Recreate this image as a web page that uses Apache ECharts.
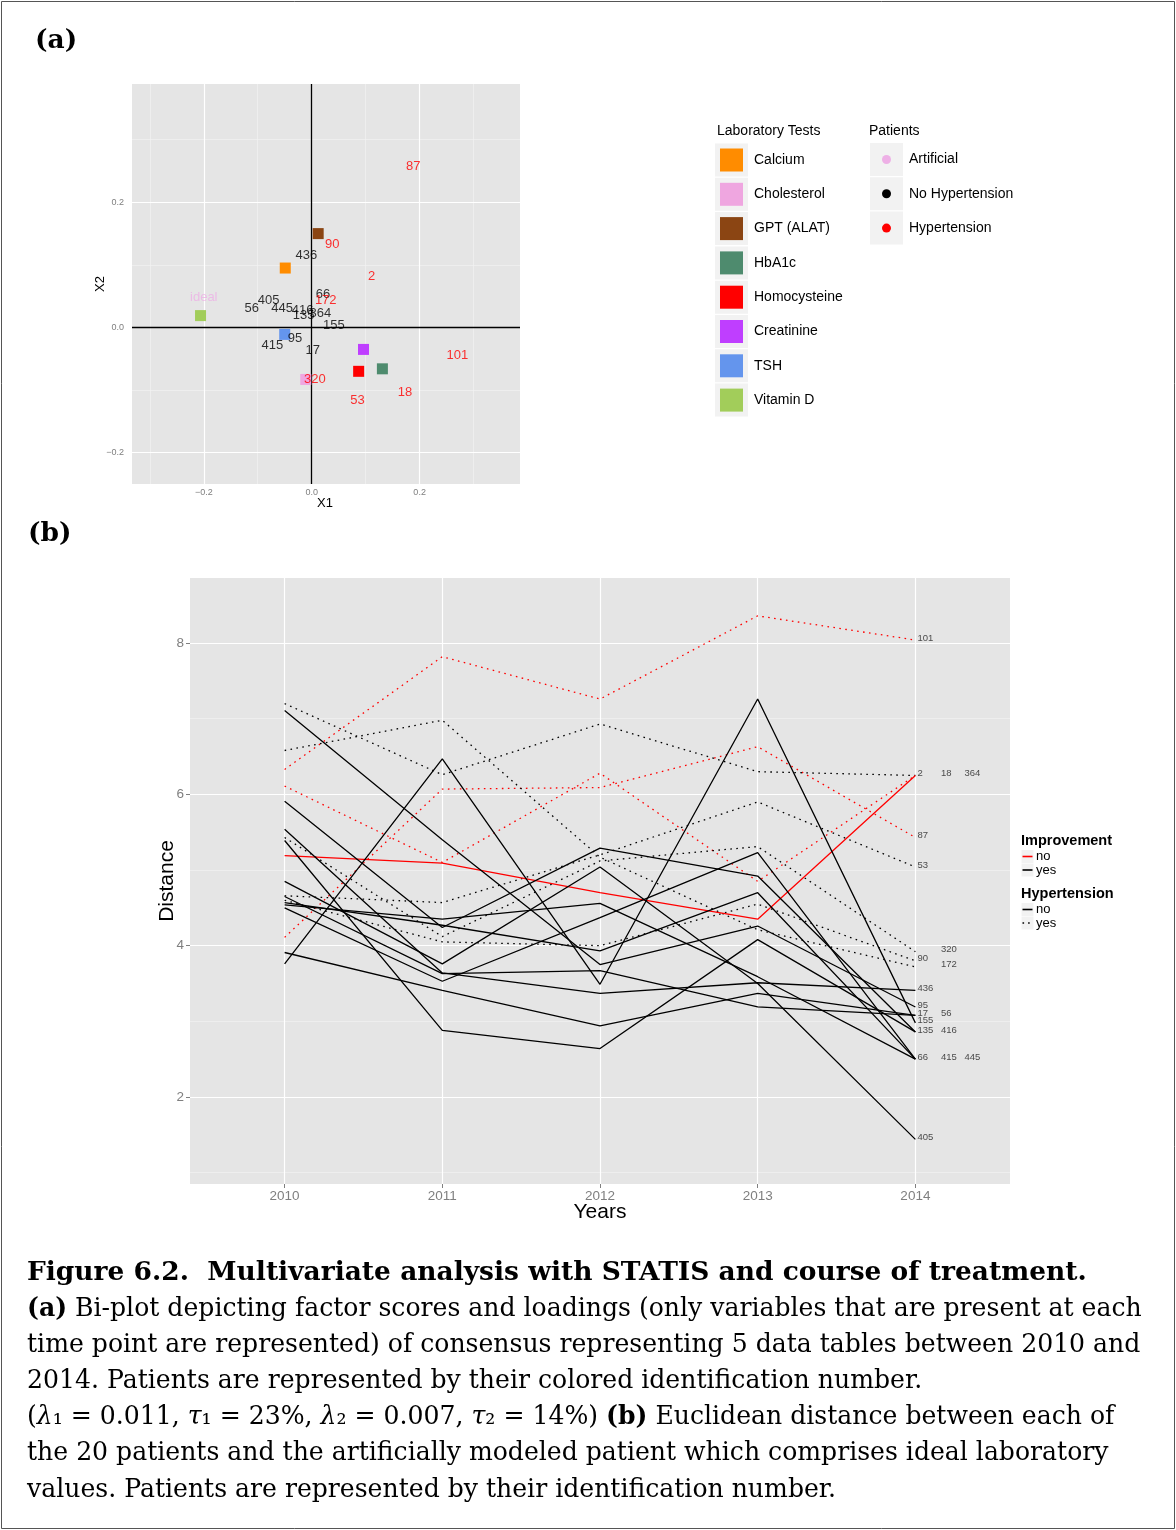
<!DOCTYPE html>
<html><head><meta charset="utf-8">
<script src="https://cdn.jsdelivr.net/npm/echarts@6/dist/echarts.min.js"></script>
<style>html,body{margin:0;padding:0;background:#fff}#c{width:1176px;height:1530px}</style>
</head><body><div id="c"></div>
<script>
// ================= DATA =================
// Panel (a): loadings of laboratory tests
const labTests = ['Calcium','Cholesterol','GPT (ALAT)','HbA1c','Homocysteine','Creatinine','TSH','Vitamin D'];
const labX1 = [-0.049, -0.011, 0.012, 0.131, 0.087, 0.096, -0.050, -0.206];
const labX2 = [0.095, -0.083, 0.150, -0.066, -0.070, -0.035, -0.011, 0.019];
// Panel (a): factor scores of patients
const patientIds   = ['87','90','436','2','66','172','405','56','445','416','135','364','155','95','415','17','320','101','18','53','ideal'];
const patientX1    = [0.188, 0.038, -0.010, 0.111, 0.021, 0.026, -0.080, -0.111, -0.055, -0.017, -0.015, 0.016, 0.041, -0.031, -0.073, 0.002, 0.006, 0.270, 0.173, 0.085, -0.200];
const patientX2    = [0.258, 0.133, 0.115, 0.081, 0.053, 0.044, 0.043, 0.030, 0.030, 0.027, 0.019, 0.023, 0.003, -0.018, -0.029, -0.036, -0.083, -0.045, -0.104, -0.117, 0.048];
const patientGroup = ['Hypertension','Hypertension','No Hypertension','Hypertension','No Hypertension','Hypertension','No Hypertension','No Hypertension','No Hypertension','No Hypertension','No Hypertension','No Hypertension','No Hypertension','No Hypertension','No Hypertension','No Hypertension','Hypertension','Hypertension','Hypertension','Hypertension','Artificial'];
const patientGroups = ['Artificial','No Hypertension','Hypertension'];
const ticksA = [-0.2, 0, 0.2];

// Panel (b): Euclidean distance to the ideal patient, per year
const years = [2010, 2011, 2012, 2013, 2014];
const ticksB = [2, 4, 6, 8];
const d101 = [6.33, 7.82, 7.26, 8.36, 8.04];
const d2   = [6.11, 5.10, 6.28, 4.85, 6.25];
const d87  = [4.11, 6.07, 6.09, 6.63, 5.43];
const d18  = [7.20, 6.26, 6.93, 6.30, 6.25];
const d53  = [4.66, 4.57, 5.20, 5.90, 5.04];
const d172 = [6.58, 6.98, 5.17, 4.21, 3.72];
const d320 = [5.43, 4.12, 5.12, 5.31, 3.92];
const d90  = [4.60, 4.05, 4.00, 4.55, 3.80];
const d364 = [5.19, 5.09, 4.70, 4.35, 6.25];
const d155 = [3.76, 6.47, 3.49, 7.26, 2.98];
const d95  = [7.11, 5.40, 3.75, 4.26, 3.19];
const d135 = [5.39, 2.88, 2.64, 4.08, 2.86];
const d416 = [5.91, 4.24, 5.29, 4.92, 2.86];
const d405 = [4.85, 3.76, 5.04, 3.50, 1.44];
const d445 = [4.54, 4.35, 4.56, 3.59, 2.50];
const d66  = [4.50, 3.53, 4.37, 5.23, 2.50];
const d415 = [4.57, 4.27, 3.93, 4.70, 2.50];
const d436 = [5.54, 3.64, 3.37, 3.51, 3.41];
const d56  = [4.65, 3.63, 3.67, 3.19, 3.08];
const d17  = [3.91, 3.41, 2.94, 3.37, 3.08];
const lineIds     = ['101','2','87','18','53','172','320','90','364','155','95','135','416','405','445','66','415','436','56','17'];
const lineValues  = [d101, d2, d87, d18, d53, d172, d320, d90, d364, d155, d95, d135, d416, d405, d445, d66, d415, d436, d56, d17];
const improvement = ['no','no','no','yes','yes','yes','yes','yes','no','yes','yes','yes','yes','yes','yes','yes','yes','yes','yes','yes'];
const hypertension= ['yes','yes','yes','yes','yes','yes','yes','yes','no','no','no','no','no','no','no','no','no','no','no','no'];

// Caption text
const captionTitle = 'Figure 6.2.  Multivariate analysis with STATIS and course of treatment.';
const captionBody = [
  '{b|(a)} Bi-plot depicting factor scores and loadings (only variables that are present at each',
  'time point are represented) of consensus representing 5 data tables between 2010 and',
  '2014. Patients are represented by their colored identification number.',
  '({i|λ}₁ = 0.011, {i|τ}₁ = 23%, {i|λ}₂ = 0.007, {i|τ}₂ = 14%) {b|(b)} Euclidean distance between each of',
  'the 20 patients and the artificially modeled patient which comprises ideal laboratory',
  'values. Patients are represented by their identification number.'
];

// ================= STYLE / LAYOUT =================
const SANS = "'Liberation Sans', Arial, Helvetica, sans-serif";
const SERIF = "'DejaVu Serif', 'Liberation Serif', serif";
const labColors = {'Calcium':'#FF8C00','Cholesterol':'#EFA6E0','GPT (ALAT)':'#8B4513','HbA1c':'#4E8B6E',
  'Homocysteine':'#FF0000','Creatinine':'#BF3EFF','TSH':'#6495ED','Vitamin D':'#A2CD5A'};
const groupColors = {'Artificial':'#EEB0E6','No Hypertension':'#000000','Hypertension':'#FF0000'};
const impColors = {no:'#FF0000', yes:'#000000'};
const DOT = [1.6, 4.4];
const labelSlot = {'18':1,'364':2,'320':1,'172':1,'56':1,'416':1,'415':1,'445':2};
const captionLeft = 27;
const captionRight = [1148, 1123, 917, 1113, 1111, 842];
const captionY = [1309, 1345, 1381, 1417, 1453, 1490];

const chart = echarts.init(document.getElementById('c'), null, {renderer:'canvas'});

// measure caption text to set font size
const mctx = document.createElement('canvas').getContext('2d');
function tw(s, weight, size){ mctx.font = weight + ' ' + size + 'px ' + SERIF; return mctx.measureText(s).width; }
const strip = s => s.replace(/\{[a-z]+\|([^}]*)\}/g, '$1');
let sumT = 0, sumM = 0;
captionBody.forEach((l,i) => { sumT += captionRight[i] - captionLeft; sumM += tw(strip(l), 'normal', 20); });
const capSize = 20 * sumT / sumM;
const titleSize = 20 * (1087 - captionLeft) / tw(captionTitle, 'bold', 20);

function fmtA(v){ return (v < 0 ? '\u2212' : '') + Math.abs(v).toFixed(1); }

function gridLines(xi, yi, xMaj, xMin, yMaj, yMin){
  const d = [];
  const minor = {type:'solid', width:0.7, color:'#F2F2F2'};
  const major = {type:'solid', width:1.2, color:'#FFFFFF'};
  xMin.forEach(v => d.push({xAxis:v, lineStyle:minor}));
  yMin.forEach(v => d.push({yAxis:v, lineStyle:minor}));
  xMaj.forEach(v => d.push({xAxis:v, lineStyle:major}));
  yMaj.forEach(v => d.push({yAxis:v, lineStyle:major}));
  return {type:'scatter', xAxisIndex:xi, yAxisIndex:yi, data:[], silent:true, z:1,
    markLine:{z:1, silent:true, symbol:['none','none'], label:{show:false}, animation:false,
      lineStyle:{type:'solid'}, data:d}};
}

const series = [];
// ---- panel (a)
series.push(gridLines(0, 0, ticksA, [-0.3,-0.1,0.1,0.3], ticksA, [-0.1,0.1,0.3]));
series.push({type:'scatter', xAxisIndex:0, yAxisIndex:0, data:[], silent:true, z:2,
  markLine:{z:2, silent:true, symbol:['none','none'], label:{show:false}, animation:false,
    lineStyle:{type:'solid', color:'#000', width:1.3}, data:[{xAxis:0},{yAxis:0}]}});
series.push({type:'scatter', xAxisIndex:0, yAxisIndex:0, symbol:'rect', symbolSize:11, z:3, silent:true,
  data: labTests.map((n,i) => ({value:[labX1[i], labX2[i]], name:n, itemStyle:{color:labColors[n], opacity:1}}))});
patientGroups.forEach(g => {
  series.push({type:'scatter', xAxisIndex:0, yAxisIndex:0, symbolSize:1, z:4, silent:true,
    itemStyle:{color:'rgba(0,0,0,0)'},
    label:{show:true, position:'inside', formatter:p => p.data[2], color:groupColors[g], fontSize:13, fontFamily:SANS},
    data: patientIds.map((id,i) => [patientX1[i], patientX2[i], id]).filter((d,i) => patientGroup[i] === g)});
});
// ---- panel (b)
series.push(gridLines(1, 1, years, [], ticksB, [1,3,5,7]));
lineIds.forEach((id,k) => {
  series.push({type:'line', xAxisIndex:1, yAxisIndex:1, symbol:'none', silent:true, z:3,
    lineStyle:{color:impColors[improvement[k]], width:1.3, type: hypertension[k]==='yes' ? DOT : 'solid'},
    data: years.map((y,j) => [y, lineValues[k][j]])});
});
series.push({type:'scatter', xAxisIndex:1, yAxisIndex:1, symbolSize:0, silent:true, z:4,
  data: lineIds.map((id,k) => ({value:[years[years.length-1], lineValues[k][years.length-1], id],
    label:{offset:[(labelSlot[id]||0)*23.5, -2]}})),
  label:{show:true, position:'right', distance:2, formatter:p => p.value[2], fontSize:9.5, color:'#222', fontFamily:SANS}});

// ---- graphics: headings, legends, axis titles, caption, border
const g = [];
g.push({type:'rect', shape:{x:1.5, y:1.5, width:1173, height:1527}, style:{fill:'none', stroke:'#555', lineWidth:1}});
g.push({type:'text', x:35, y:41, style:{text:'(a)', font:'bold ' + titleSize.toFixed(2) + 'px ' + SERIF, fill:'#000', textVerticalAlign:'middle'}});
g.push({type:'text', x:28, y:534, style:{text:'(b)', font:'bold ' + titleSize.toFixed(2) + 'px ' + SERIF, fill:'#000', textVerticalAlign:'middle'}});
// axis titles
g.push({type:'text', x:325, y:503, style:{text:'X1', font:'13px ' + SANS, fill:'#000', textAlign:'center', textVerticalAlign:'middle'}});
g.push({type:'text', x:100, y:284, rotation:Math.PI/2, style:{text:'X2', font:'13px ' + SANS, fill:'#000', textAlign:'center', textVerticalAlign:'middle'}});
g.push({type:'text', x:600, y:1212, style:{text:'Years', font:'21px ' + SANS, fill:'#000', textAlign:'center', textVerticalAlign:'middle'}});
g.push({type:'text', x:167, y:881, rotation:Math.PI/2, style:{text:'Distance', font:'21px ' + SANS, fill:'#000', textAlign:'center', textVerticalAlign:'middle'}});
// legend (a): laboratory tests
g.push({type:'text', x:717, y:131, style:{text:'Laboratory Tests', font:'14px ' + SANS, fill:'#000', textVerticalAlign:'middle'}});
labTests.forEach((n,i) => {
  const cy = 160 + i * 34.3;
  g.push({type:'rect', shape:{x:715, y:cy-16.5, width:33, height:33}, style:{fill:'#F2F2F2'}});
  g.push({type:'rect', shape:{x:720, y:cy-11.5, width:23, height:23}, style:{fill:labColors[n]}});
  g.push({type:'text', x:754, y:cy, style:{text:n, font:'14px ' + SANS, fill:'#000', textVerticalAlign:'middle'}});
});
// legend (a): patients
g.push({type:'text', x:869, y:131, style:{text:'Patients', font:'14px ' + SANS, fill:'#000', textVerticalAlign:'middle'}});
patientGroups.forEach((n,i) => {
  const cy = 159.5 + i * 34.3;
  g.push({type:'rect', shape:{x:870, y:cy-16.5, width:33, height:33}, style:{fill:'#F2F2F2'}});
  g.push({type:'circle', shape:{cx:886.5, cy:cy, r:4.5}, style:{fill:groupColors[n]}});
  g.push({type:'text', x:909, y:cy, style:{text:n, font:'14px ' + SANS, fill:'#000', textVerticalAlign:'middle'}});
});
// legend (b)
const legB = [
  {title:'Improvement', y:841, items:[{t:'no', c:impColors.no, dash:null},{t:'yes', c:impColors.yes, dash:null}]},
  {title:'Hypertension', y:894, items:[{t:'no', c:'#000', dash:null},{t:'yes', c:'#000', dash:[1.6,4]}]}
];
legB.forEach(L => {
  g.push({type:'text', x:1021, y:L.y, style:{text:L.title, font:'bold 14.5px ' + SANS, fill:'#000', textVerticalAlign:'middle'}});
  L.items.forEach((it,j) => {
    const cy = L.y + 15.5 + j * 13.5;
    g.push({type:'rect', shape:{x:1021.5, y:cy-6.5, width:12, height:13}, style:{fill:'#F2F2F2'}});
    g.push({type:'line', shape:{x1:1022.5, y1:cy, x2:1032.5, y2:cy}, style:{stroke:it.c, lineWidth:1.6, lineDash:it.dash}});
    g.push({type:'text', x:1036, y:cy, style:{text:it.t, font:'13px ' + SANS, fill:'#000', textVerticalAlign:'middle'}});
  });
});
// caption
g.push({type:'text', x:captionLeft, y:1273, style:{text:captionTitle, font:'bold ' + titleSize.toFixed(2) + 'px ' + SERIF, fill:'#000', textVerticalAlign:'middle'}});
captionBody.forEach((l,i) => {
  g.push({type:'text', x:captionLeft, y:captionY[i], style:{text:l, fontFamily:SERIF, fontSize:capSize, fill:'#000', textVerticalAlign:'middle',
    rich:{b:{fontFamily:SERIF, fontSize:capSize, fontWeight:'bold', fill:'#000'}, i:{fontFamily:SERIF, fontSize:capSize, fontStyle:'italic', fill:'#000'}}}});
});

const axisCommon = {splitLine:{show:false}, axisLine:{show:false}};
chart.setOption({
  animation:false,
  backgroundColor:'#FFFFFF',
  grid:[
    {left:132, top:84, width:388, height:400, show:true, backgroundColor:'#E5E5E5', borderWidth:0},
    {left:190, top:578, width:820, height:606, show:true, backgroundColor:'#E5E5E5', borderWidth:0}
  ],
  xAxis:[
    Object.assign({gridIndex:0, type:'value', min:-0.333, max:0.386,
      axisTick:{show:true, length:4, lineStyle:{color:'#7f7f7f'}, customValues:ticksA},
      axisLabel:{customValues:ticksA, formatter:fmtA, color:'#7f7f7f', fontSize:9, margin:4, fontFamily:SANS}}, axisCommon),
    Object.assign({gridIndex:1, type:'value', min:2009.4, max:2014.6,
      axisTick:{show:true, length:4, lineStyle:{color:'#7f7f7f'}, customValues:years},
      axisLabel:{customValues:years, formatter:v => String(Math.round(v)), color:'#7f7f7f', fontSize:13.5, margin:5, fontFamily:SANS}}, axisCommon)
  ],
  yAxis:[
    Object.assign({gridIndex:0, type:'value', min:-0.25, max:0.389,
      axisTick:{show:true, length:4, lineStyle:{color:'#7f7f7f'}, customValues:ticksA},
      axisLabel:{customValues:ticksA, formatter:fmtA, color:'#7f7f7f', fontSize:9, margin:8, fontFamily:SANS}}, axisCommon),
    Object.assign({gridIndex:1, type:'value', min:0.85, max:8.86,
      axisTick:{show:true, length:4, lineStyle:{color:'#7f7f7f'}, customValues:ticksB},
      axisLabel:{customValues:ticksB, formatter:v => String(Math.round(v)), color:'#7f7f7f', fontSize:13.5, margin:6, fontFamily:SANS}}, axisCommon)
  ],
  series: series,
  graphic: g
});
</script>
</body></html>
